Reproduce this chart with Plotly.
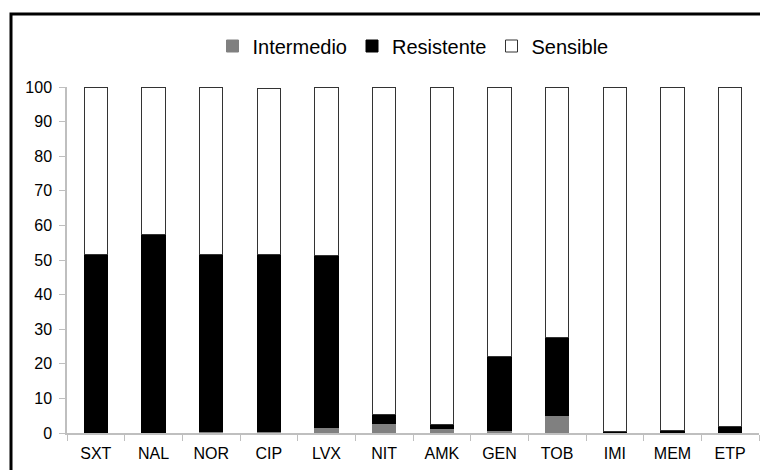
import plotly.graph_objects as go

categories = ["SXT", "NAL", "NOR", "CIP", "LVX", "NIT", "AMK", "GEN", "TOB", "IMI", "MEM", "ETP"]
intermedio = [0, 0, 0.5, 0.5, 1.5, 2.8, 1.4, 0.8, 5.2, 0, 0, 0]
resistente = [51.5, 57.5, 51.0, 51.0, 49.8, 2.6, 1.0, 21.2, 22.3, 0.3, 0.7, 2.0]
sensible = [48.5, 42.5, 48.5, 48.2, 48.7, 94.6, 97.6, 78.0, 72.5, 99.7, 99.3, 98.0]
y_ticks = list(range(0, 101, 10))

# page body has an 8px margin; figure coordinates are offset by it
OFF = 8
W, H = 768 - OFF, 470 - OFF
L, R, T, B = 67 - OFF, 9, 87 - OFF, 37
pw, ph = W - L - R, H - T - B

fig = go.Figure()
fig.add_trace(go.Bar(name="Intermedio", x=categories, y=intermedio,
                     marker=dict(color="#808080", line=dict(color="#808080", width=1))))
fig.add_trace(go.Bar(name="Resistente", x=categories, y=resistente,
                     marker=dict(color="#000000", line=dict(color="#000000", width=1))))
fig.add_trace(go.Bar(name="Sensible", x=categories, y=sensible,
                     marker=dict(color="#ffffff", line=dict(color="#333333", width=1))))

def px(x):
    # x in screenshot pixels -> paper coords
    return (x - OFF - L) / pw

def py(y):
    return (H - B - (y - OFF)) / ph

fig.add_shape(type="rect", xref="paper", yref="paper",
              x0=px(11), x1=px(790), y0=py(490), y1=py(14),
              line=dict(color="black", width=3), fillcolor="rgba(0,0,0,0)", layer="above")

fig.update_layout(
    width=W, height=H,
    margin=dict(l=L, r=R, t=T, b=B),
    barmode="stack",
    bargap=0.6,
    plot_bgcolor="white",
    paper_bgcolor="white",
    font=dict(family="Liberation Sans, Arial, sans-serif", size=16, color="#000000"),
    legend=dict(orientation="h", x=0.5, xanchor="center", y=py(46), yanchor="middle",
                font=dict(size=20), itemwidth=30, traceorder="normal"),
    xaxis=dict(showgrid=False, showline=True, linecolor="#bfbfbf", linewidth=1.5,
               ticks="outside", ticklen=6, tickcolor="#bfbfbf", tickson="boundaries",
               ticklabelstandoff=5, tickfont=dict(size=16, color="#000000")),
    yaxis=dict(range=[0, 100], tickvals=y_ticks, showgrid=False, showline=True,
               linecolor="#bfbfbf", linewidth=1.5, ticks="outside", ticklen=6,
               tickcolor="#bfbfbf", zeroline=False, ticklabelstandoff=4,
               tickfont=dict(size=16, color="#000000")),
)

fig.write_html("out.html")
